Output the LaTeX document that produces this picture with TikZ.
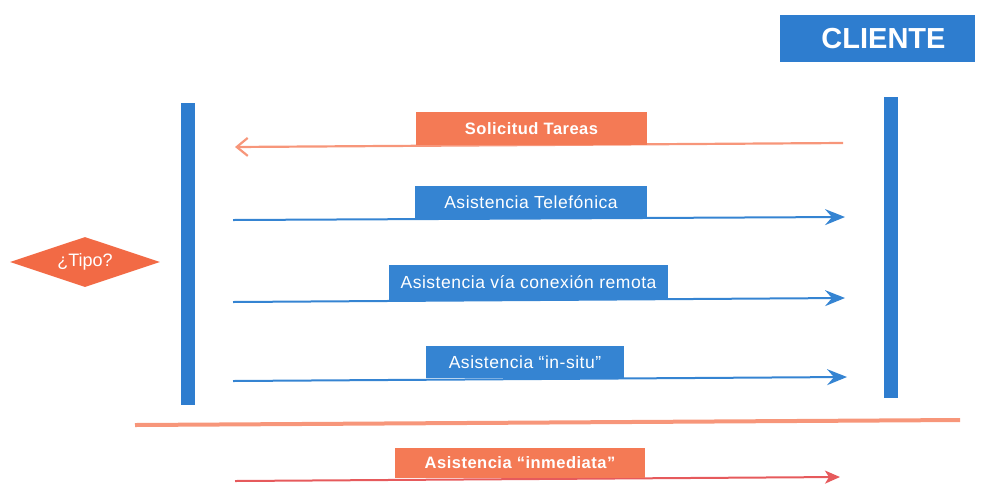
\documentclass[tikz,border=0pt]{standalone}
\usepackage{fontspec}
\setmainfont{Liberation Sans}
\usetikzlibrary{arrows.meta,shapes.geometric}
\definecolor{cblue}{HTML}{3584D2}
\definecolor{cbar}{HTML}{2E7DCF}
\definecolor{corange}{HTML}{F47A55}
\definecolor{csalmon}{HTML}{F7967A}
\definecolor{cred}{HTML}{E65A5C}
\definecolor{cdiam}{HTML}{F26A45}
\tikzset{
  bluebox/.style={fill=cblue, text=white, inner sep=0pt, font=\addfontfeatures{LetterSpace=3}\fontsize{17.5}{20}\selectfont},
  orangebox/.style={fill=corange, text=white, inner sep=0pt, font=\bfseries\addfontfeatures{LetterSpace=3}\fontsize{16.5}{19}\selectfont},
  bar/.style={fill=cbar, inner sep=0pt},
  bluearrow/.style={draw=cblue, line width=2pt, -{Stealth[length=20pt,width=16pt,inset=7pt]}},
  salmonarrow/.style={draw=csalmon, line width=2.2pt, -{Straight Barb[length=11pt,width=18pt,line width=2.2pt]}},
  redarrow/.style={draw=cred, line width=2pt, -{Stealth[length=15pt,width=13pt,inset=4pt]}},
}
\begin{document}
\begin{tikzpicture}[x=1pt,y=-1pt]
\useasboundingbox (0,0) rectangle (984,483);
% CLIENTE
\node[bar, minimum width=195pt, minimum height=47pt, text=white, text width=195pt, align=center,
  font=\bfseries\fontsize{29}{32}\selectfont] (cliente) at (877.5,38.5) {\hspace*{12pt}CLIENTE};
% bars
\node[bar, minimum width=14pt, minimum height=302pt] (lbar) at (188,254) {};
\node[bar, minimum width=14pt, minimum height=301pt] (rbar) at (891,247.5) {};
% diamond
\node[diamond, aspect=3, fill=cdiam, text=white, inner sep=0pt,
  minimum width=150pt, minimum height=50pt, font=\fontsize{18}{20}\selectfont] (tipo) at (85,262) {¿Tipo?};
% arrow coordinates
\coordinate (s1) at (843,143); \coordinate (e1) at (235,147);
\coordinate (s2) at (233,220); \coordinate (e2) at (845,217);
\coordinate (s3) at (233,302); \coordinate (e3) at (845,298);
\coordinate (s4) at (233,381); \coordinate (e4) at (847,377);
\coordinate (s5) at (235,481); \coordinate (e5) at (840,477);
\coordinate (h1) at (135,425); \coordinate (h2) at (960,420);
\draw[salmonarrow] (s1) -- (e1);
\draw[bluearrow] (s2) -- (e2);
\draw[bluearrow] (s3) -- (e3);
\draw[bluearrow] (s4) -- (e4);
\draw[redarrow] (s5) -- (e5);
\draw[draw=csalmon, line width=4pt] (h1) -- (h2);
% labels
\node[orangebox, minimum width=231pt, minimum height=33pt] (sol) at (531.5,128.5) {Solicitud Tareas};
\node[bluebox, minimum width=232pt, minimum height=33pt] (tel) at (531,202) {Asistencia Telefónica};
\node[bluebox, minimum width=279pt, minimum height=35pt] (rem) at (528.5,282.5) {Asistencia vía conexión remota};
\node[bluebox, minimum width=198pt, minimum height=32pt] (ins) at (525,362) {Asistencia “in-situ”};
\node[orangebox, minimum width=250pt, minimum height=30pt] (inm) at (520,463) {Asistencia “inmediata”};
\end{tikzpicture}
\end{document}
